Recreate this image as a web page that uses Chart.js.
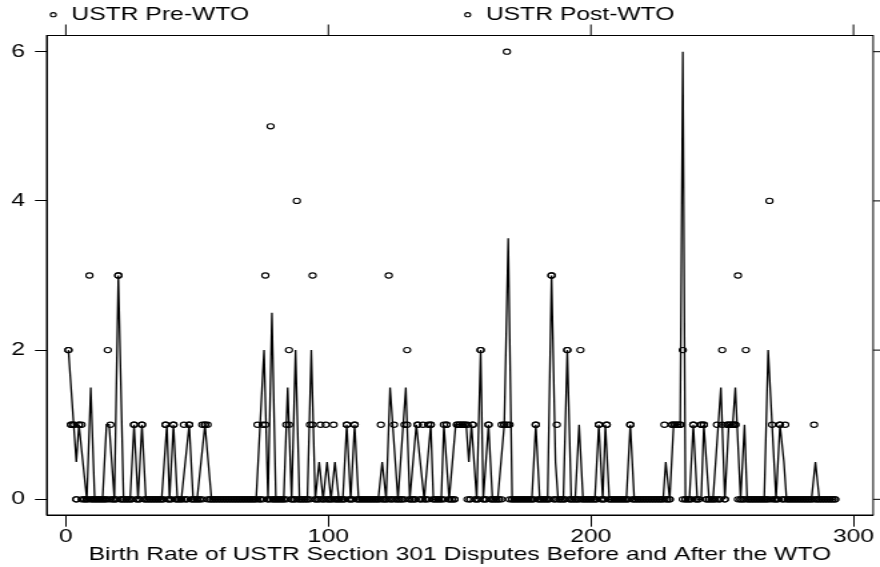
<!DOCTYPE html>
<html>
<head>
<meta charset="utf-8">
<script src="https://cdn.jsdelivr.net/npm/chart.js@4.4.1/dist/chart.umd.min.js"></script>
<style>
  html, body { margin: 0; padding: 0; background: #fff; }
</style>
</head>
<body>
<!-- the original graph was exported narrow and stretched sideways, so the canvas is drawn at 660 wide and shown at 880 -->
<canvas id="chart" width="660" height="567" style="width:880px;height:567px;display:block"></canvas>
<script>
// disputes per observation, observations 1..293
const preWTO = [
  2,1,1,0,1,1,0,0,3,0,  0,0,0,0,0,2,1,0,0,3,  0,0,0,0,0,1,0,0,1,0,
  0,0,0,0,0,0,0,1,0,0,  1,0,0,0,1,0,1,0,0,0,  0,1,1,1,0,0,0,0,0,0,
  0,0,0,0,0,0,0,0,0,0,  0,0,1,0,1,3,0,5,0,0,  0,0,0,1,2,0,0,4,0,0,
  0,0,1,3,0,0,1,0,1,0,  0,1,0,0,0,0,1,0,0,1,  0,0,0,0,0,0,0,0,0,1,
  0,0,3,0,1,0,0,0,1,2,  0,0,0,1,0,1,0,1,1,0,  0,0,0,1,1,0,0,0,1,1,
  1,1,1,0,1,0,0,2,0,0,  1,0,0,0,0,1,1,6,1,0,  0,0,0,0,0,0,0,0,1,0,
  0,0,0,0,3,0,1,0,0,0,  2,0,0,0,0,2,0,0,0,0,  0,0,1,0,0,1,0,0,0,0,
  0,0,0,0,1,0,0,0,0,0,  0,0,0,0,0,0,0,1,0,0,  1,1,1,1,2,0,0,0,1,0,
  0,1,1,0,0,0,0,1,0,2,  0,1,1,1,1,3,0,0,2,0,  0,0,0,0,0,0,0,4,1,0,
  0,1,0,1,0,0,0,0,0,0,  0,0,0,0,1,0,0,0,0,0,  0,0,0
];
const postWTO = [
  2,1,1,0,1,0,0,0,0,0,  0,0,0,0,0,0,0,0,0,3,  0,0,0,0,0,1,0,0,1,0,
  0,0,0,0,0,0,0,1,0,0,  1,0,0,0,0,0,1,0,0,0,  0,0,1,0,0,0,0,0,0,0,
  0,0,0,0,0,0,0,0,0,0,  0,0,0,0,0,1,0,0,0,0,  0,0,0,0,1,0,0,0,0,0,
  0,0,0,1,0,0,0,0,0,0,  0,0,0,0,0,0,1,0,0,1,  0,0,0,0,0,0,0,0,0,0,
  0,0,0,0,0,0,0,0,0,1,  0,0,0,1,0,0,0,0,1,0,  0,0,0,0,1,0,0,0,1,1,
  1,1,0,0,1,0,0,2,0,0,  1,0,0,0,0,0,1,1,0,0,  0,0,0,0,0,0,0,0,1,0,
  0,0,0,0,3,0,0,0,0,0,  2,0,0,0,0,0,0,0,0,0,  0,0,1,0,0,1,0,0,0,0,
  0,0,0,0,1,0,0,0,0,0,  0,0,0,0,0,0,0,0,0,0,  1,1,1,1,0,0,0,0,1,0,
  0,1,1,0,0,0,0,0,0,1,  0,1,1,1,1,0,0,0,0,0,  0,0,0,0,0,0,0,0,0,0,
  0,1,0,0,0,0,0,0,0,0,  0,0,0,0,0,0,0,0,0,0,  0,0,0
];

// the connected rate line, vertex by vertex
const lineX = [
  1, 4, 5, 8, 9.5, 11, 14, 15.5, 16.5, 18.5, 20, 22, 24.5, 26, 27.5, 29, 30.5,
  36.5, 38.5, 39.5, 41, 42.5, 44, 47, 48.5, 50, 53, 55.5,
  72.5, 75.5, 77, 78.5, 80, 83, 84.5, 86, 87.5, 89, 92, 93.5, 95,
  96.5, 98, 99.5, 101, 102.5, 104, 105.5, 107, 108.5, 110, 111.5,
  119, 120.5, 122, 123.5, 126.5, 129.5, 131, 133.5, 136.5, 139, 140,
  143, 144, 146, 148.5, 152.5, 153.5, 154.5, 156.5, 158, 159, 161, 162.5,
  164.5, 167, 168.5, 170, 177.5, 179, 180.5, 183.5, 185, 186.5, 187.5,
  189.5, 191, 192.5, 194, 195.5, 197, 201.5, 203, 204.5, 205.5, 207,
  213.5, 215, 216.5, 227.5, 228.5, 230, 231.5, 234, 235, 236,
  237.5, 239, 240.5, 242, 243, 245, 246.5, 249.5, 251, 252.5, 254, 255,
  257, 258.5, 259.5, 266, 267.5, 270.5, 272, 273.5, 274.5,
  284, 285.5, 287, 293
];
const lineY = [
  2, 0.5, 1, 0, 1.5, 0, 0, 1, 1, 0, 3, 0, 0, 1, 0, 1, 0,
  0, 1, 0, 1, 0, 0, 1, 0, 0, 1, 0,
  0, 2, 0, 2.5, 0, 0, 1.5, 0, 2, 0, 0, 2, 0,
  0.5, 0, 0.5, 0, 0.5, 0, 0, 1, 0, 1, 0,
  0, 0.5, 0, 1.5, 0, 1.5, 0, 1, 0, 1, 0,
  0, 1, 0, 1, 1, 0.5, 1, 0, 2, 0, 1, 0,
  0, 1, 3.5, 0, 0, 1, 0, 0, 3, 0.5, 0,
  0, 2, 0, 0, 1, 0, 0, 1, 0, 1, 0,
  0, 1, 0, 0, 0.5, 0, 1, 1, 6, 0,
  0, 1, 0, 0, 1, 0, 0, 1.5, 0, 1, 1, 1.5,
  0, 1, 0, 0, 2, 0, 1, 0.5, 0,
  0, 0.5, 0, 0
];

const xTicks = [0, 100, 200, 300];
const yTicks = [0, 2, 4, 6];
const xTitle = "Birth Rate of USTR Section 301 Disputes Before and After the WTO";

const FONT = '"Liberation Sans", Arial, sans-serif';
const FONT_SIZE = 18.5;

// box round the plot with the mirrored ticks on top and right
const framePlugin = {
  id: "frame",
  afterDraw(chart) {
    const { ctx, chartArea: a, scales } = chart;
    ctx.save();
    ctx.strokeStyle = "#000";
    ctx.lineWidth = 1;
    ctx.strokeRect(a.left, a.top, a.right - a.left, a.bottom - a.top);
    ctx.beginPath();
    xTicks.forEach((v) => {
      const px = scales.x.getPixelForValue(v);
      ctx.moveTo(px, a.top);
      ctx.lineTo(px, a.top - 11);
    });
    yTicks.forEach((v) => {
      const py = scales.y.getPixelForValue(v);
      ctx.moveTo(a.right, py);
      ctx.lineTo(a.right + 8.75, py);
    });
    ctx.stroke();
    ctx.restore();
  },
};

// legend in two columns, as the original has it
const legendX = [40, 350.8];
const legendPlugin = {
  id: "twoColLegend",
  afterDraw(chart) {
    const ctx = chart.ctx;
    ctx.save();
    ctx.font = FONT_SIZE + "px " + FONT;
    ctx.fillStyle = "#000";
    ctx.strokeStyle = "#000";
    ctx.lineWidth = 1.1;
    ctx.textBaseline = "middle";
    legendX.forEach((lx, i) => {
      ctx.beginPath();
      ctx.arc(lx, 14.7, 2.1, 0, Math.PI * 2);
      ctx.stroke();
      ctx.fillText(chart.data.datasets[i].label, lx + 13.6, 14.5);
    });
    ctx.restore();
  },
};

const circles = {
  showLine: false,
  pointStyle: "circle",
  pointRadius: 2.6,
  pointBorderWidth: 1.1,
  pointBorderColor: "#000",
  pointBackgroundColor: "rgba(0,0,0,0)",
};

new Chart(document.getElementById("chart"), {
  type: "scatter",
  data: {
    datasets: [
      {
        label: "USTR Pre-WTO",
        data: preWTO.map((v, i) => ({ x: i + 1, y: v })),
        ...circles,
      },
      {
        label: "USTR Post-WTO",
        data: postWTO.map((v, i) => ({ x: i + 1, y: v })),
        ...circles,
      },
      {
        label: "rate",
        data: lineX.map((x, i) => ({ x: x, y: lineY[i] })),
        showLine: true,
        borderColor: "#000",
        borderWidth: 1.3,
        pointRadius: 0,
        tension: 0,
        fill: false,
      },
    ],
  },
  options: {
    responsive: false,
    animation: false,
    devicePixelRatio: 1,
    layout: { padding: { top: 35.5, right: 4.5, left: 0, bottom: 0 } },
    plugins: {
      legend: { display: false },
      tooltip: { enabled: false },
    },
    scales: {
      x: {
        type: "linear",
        position: "bottom",
        min: -7.3,
        max: 307.5,
        afterBuildTicks: (s) => {
          s.ticks = xTicks.map((v) => ({ value: v }));
        },
        afterFit: (s) => {
          s.height = 52;
        },
        grid: { drawOnChartArea: false, drawTicks: true, tickLength: 11.7, tickColor: "#000", color: "#000" },
        border: { display: true, color: "#000", width: 1 },
        ticks: {
          color: "#000",
          padding: 1,
          maxRotation: 0,
          font: { family: FONT, size: FONT_SIZE, lineHeight: 1 },
        },
        title: {
          display: true,
          text: xTitle,
          color: "#000",
          font: { family: FONT, size: FONT_SIZE, lineHeight: 1.2 },
          padding: { top: 0, bottom: 1 },
        },
      },
      y: {
        type: "linear",
        min: -0.21,
        max: 6.217,
        afterBuildTicks: (s) => {
          s.ticks = yTicks.map((v) => ({ value: v }));
        },
        afterFit: (s) => {
          s.width = 35;
        },
        grid: { drawOnChartArea: false, drawTicks: true, tickLength: 8.75, tickColor: "#000", color: "#000" },
        border: { display: true, color: "#000", width: 1 },
        ticks: {
          color: "#000",
          padding: 7.5,
          font: { family: FONT, size: FONT_SIZE },
        },
      },
    },
  },
  plugins: [framePlugin, legendPlugin],
});
</script>
</body>
</html>
